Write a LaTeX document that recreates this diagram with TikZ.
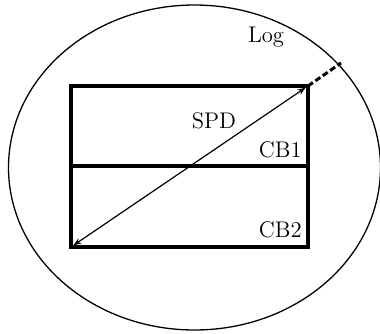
\documentclass[tikz,border=0pt]{standalone}
\usepackage{tikz}
\usetikzlibrary{arrows.meta}

\begin{document}
\begin{tikzpicture}[x=0.5pt, y=-0.5pt, every node/.style={font=\fontsize{11.3}{13}\selectfont}]
\useasboundingbox (0,0) rectangle (380,333);
% Log region (ellipse)
\draw[line width=0.65pt] (194.5,167.5) ellipse [x radius=186, y radius=162.5];
\node (log) at (266,37) {Log};
% SPD box split into CB1 and CB2
\coordinate (sw) at (71,247);
\coordinate (ne) at (308,86);
\coordinate (mw) at (71,166);
\coordinate (me) at (308,166);
\draw[line width=2pt] (sw) rectangle (ne);
\draw[line width=2pt] (mw) -- (me);
\node[anchor=south east, inner sep=1pt] (cb1) at (304,160) {CB1};
\node[anchor=south east, inner sep=1pt] (cb2) at (304,240) {CB2};
% Diagonal arrow (SPD)
\draw[line width=0.6pt, {Stealth[length=4pt]}-{Stealth[length=4pt]}, shorten <=1.5pt, shorten >=1.5pt] (sw) -- (ne);
\node (spd) at (214,121) {SPD};
% Dashed link from box corner to ellipse
\coordinate (rim) at (341,63);
\draw[line width=1.5pt, dash pattern=on 3pt off 1.5pt] (ne) -- (rim);
\end{tikzpicture}
\end{document}
